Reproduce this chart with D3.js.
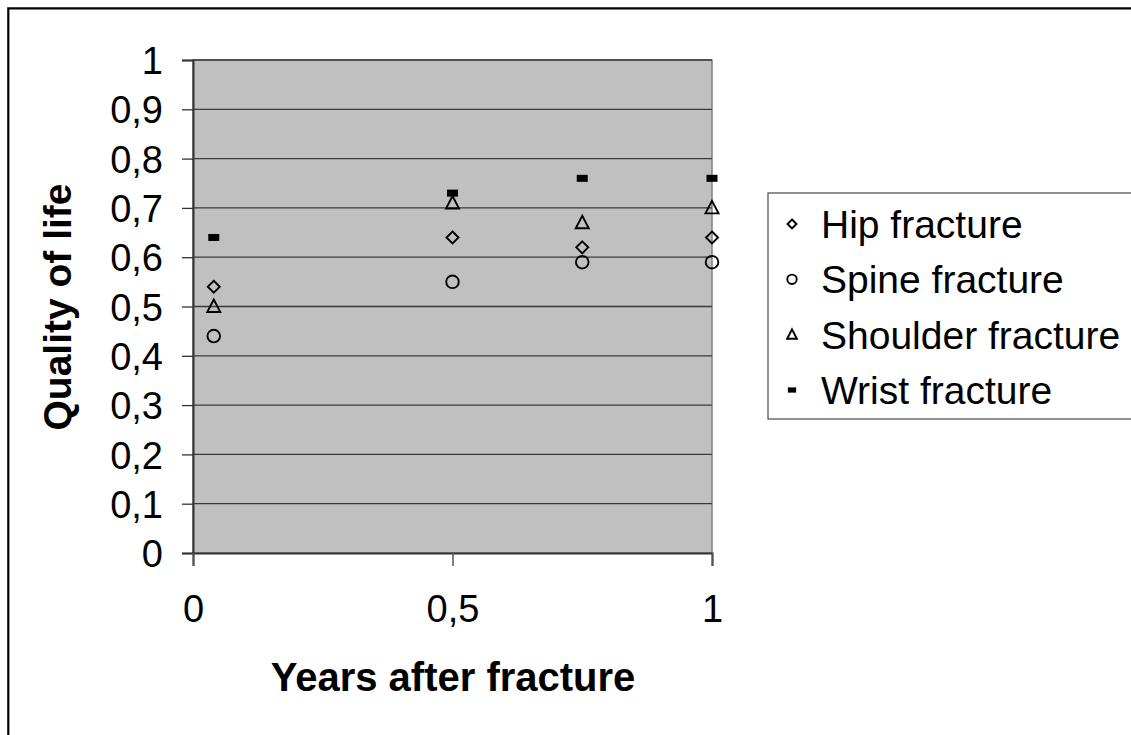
<!DOCTYPE html>
<html><head><meta charset="utf-8">
<script src="https://cdn.jsdelivr.net/npm/d3@7"></script>
<style>
html,body{margin:0;padding:0;background:#fff;overflow:hidden;}
svg{display:block;overflow:hidden;font-family:"Liberation Sans",Arial,sans-serif;}
</style></head>
<body><svg id="c" width="1131" height="735"></svg>
<script>
const years = [0.04, 0.5, 0.75, 1];
const hip = [0.54, 0.64, 0.62, 0.64];
const spine = [0.44, 0.55, 0.59, 0.59];
const shoulder = [0.50, 0.71, 0.67, 0.70];
const wrist = [0.64, 0.73, 0.76, 0.76];
const seriesNames = ["Hip fracture", "Spine fracture", "Shoulder fracture", "Wrist fracture"];
const yTicks = [0,0.1,0.2,0.3,0.4,0.5,0.6,0.7,0.8,0.9,1];
const xTicks = [0,0.5,1];

const svg = d3.select("#c");
const x = d3.scaleLinear().domain([0,1]).range([193,712]);
const y = d3.scaleLinear().domain([0,1]).range([553,60]);
const fmt = d => String(d).replace(".", ",");

// outer border (right and bottom edges lie outside the picture)
svg.append("path").attr("d","M8.3,740V8.3H1140")
  .attr("fill","none").attr("stroke","#000").attr("stroke-width",2.2);

// plot area
svg.append("rect").attr("x",x(0)).attr("y",y(1)).attr("width",x(1)-x(0)).attr("height",y(0)-y(1))
  .attr("fill","#c0c0c0").attr("stroke","#808080").attr("stroke-width",1.5);

// gridlines
svg.append("g").selectAll("line").data(yTicks.filter(d=>d>0)).join("line")
  .attr("x1",x(0)).attr("x2",x(1)).attr("y1",d=>y(d)).attr("y2",d=>y(d))
  .attr("stroke","#3a3a3a").attr("stroke-width",1.3);

// y axis
const yAxis = d3.axisLeft(y).tickValues(yTicks).tickFormat(fmt).tickSize(11).tickPadding(19);
const gy = svg.append("g").attr("transform",`translate(${x(0)},0)`).call(yAxis);
gy.select(".domain").attr("stroke","#333").attr("stroke-width",2);
gy.selectAll(".tick line").attr("stroke","#333").attr("stroke-width",1.3);
gy.selectAll("text").attr("font-size",38).attr("fill","#000").attr("font-family","Liberation Sans, Arial, sans-serif").attr("dy","0.36em");

// x axis
const xAxis = d3.axisBottom(x).tickValues(xTicks).tickFormat(fmt).tickSize(13).tickPadding(29);
const gx = svg.append("g").attr("transform",`translate(0,${y(0)})`).call(xAxis);
gx.select(".domain").attr("stroke","#333").attr("stroke-width",2);
gx.selectAll(".tick line").attr("stroke","#555").attr("stroke-width",1.5);
gx.selectAll("text").attr("font-size",38).attr("fill","#000").attr("font-family","Liberation Sans, Arial, sans-serif");

// axis titles
svg.append("text").attr("transform","translate(71,307) rotate(-90)").attr("text-anchor","middle")
  .attr("font-size",39).attr("font-weight","bold").text("Quality of life");
svg.append("text").attr("x",453).attr("y",691).attr("text-anchor","middle")
  .attr("font-size",40).attr("font-weight","bold").text("Years after fracture");

// marker drawers
function drawMarker(g, type, cx, cy, s) {
  if (type===0) {
    g.append("path").attr("d",`M${cx},${cy-6*s}L${cx+6*s},${cy}L${cx},${cy+6*s}L${cx-6*s},${cy}Z`)
      .attr("fill","none").attr("stroke","#000").attr("stroke-width",1.9);
  } else if (type===1) {
    g.append("circle").attr("cx",cx).attr("cy",cy).attr("r",6.3*s)
      .attr("fill","none").attr("stroke","#000").attr("stroke-width",1.9);
  } else if (type===2) {
    g.append("path").attr("d",`M${cx},${cy-7*s}L${cx+6.5*s},${cy+5.5*s}L${cx-6.5*s},${cy+5.5*s}Z`)
      .attr("fill","none").attr("stroke","#000").attr("stroke-width",1.9);
  } else {
    g.append("rect").attr("x",cx-5.5*s).attr("y",cy-3.5*s).attr("width",11*s).attr("height",7*s).attr("fill","#000");
  }
}

const allSeries = [hip, spine, shoulder, wrist];
const mg = svg.append("g");
allSeries.forEach((vals, si) => {
  vals.forEach((v, i) => drawMarker(mg, si, x(years[i]), y(v), 1));
});

// legend
const lg = svg.append("g");
lg.append("rect").attr("x",768).attr("y",193).attr("width",500).attr("height",226)
  .attr("fill","#fff").attr("stroke","#555").attr("stroke-width",1.3);
const rowY = d3.scalePoint().domain(seriesNames).range([224,390]);
seriesNames.forEach((n, si) => {
  drawMarker(lg, si, 792, rowY(n), 0.75);
  lg.append("text").attr("x",821).attr("y",rowY(n)).attr("dy","0.36em")
    .attr("font-size",39).text(n);
});
</script>
</body></html>
